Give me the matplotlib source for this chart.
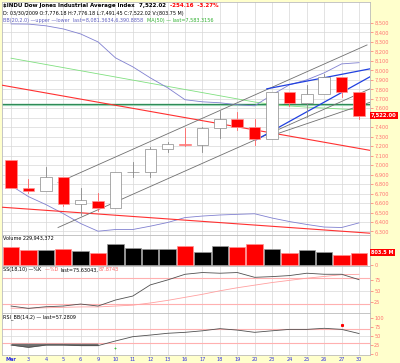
import numpy as np
import matplotlib.pyplot as plt
from matplotlib.transforms import blended_transform_factory

# ---- data ----
day_labels = ["Mar", "3", "4", "5", "6", "9", "10", "11", "12", "13", "16",
              "17", "18", "19", "20", "23", "24", "25", "26", "27", "30"]
opens = [7056, 6764, 6726, 6874, 6595, 6626, 6547, 6924, 6930, 7170, 7224,
         7217, 7396, 7487, 7401, 7278, 7776, 7660, 7750, 7925, 7776]
highs = [7059, 6855, 6979, 6874, 6755, 6710, 6926, 7036, 7192, 7239, 7395,
         7399, 7575, 7564, 7492, 7776, 7776, 7845, 7964, 7925, 7776]
lows = [6755, 6706, 6726, 6573, 6470, 6517, 6547, 6874, 6880, 7136, 7202,
        7139, 7290, 7372, 7217, 7278, 7624, 7503, 7750, 7716, 7491]
closes = [6763, 6726, 6876, 6594, 6627, 6547, 6926, 6930, 7170, 7224, 7217,
          7396, 7487, 7401, 7278, 7776, 7660, 7750, 7925, 7776, 7522]
prev_close = 7063

bb_upper = [8490, 8488, 8470, 8437, 8384, 8300, 8132, 8037, 7921, 7816, 7690,
            7668, 7658, 7637, 7626, 7742, 7847, 7900, 7974, 8068, 8081]
bb_lower = [6784, 6668, 6584, 6489, 6384, 6303, 6321, 6321, 6356, 6395, 6447,
            6463, 6474, 6481, 6487, 6442, 6405, 6374, 6347, 6342, 6391]
ma50 = [8128, 8095, 8062, 8029, 7996, 7963, 7930, 7897, 7864, 7831, 7798,
        7765, 7732, 7699, 7666, 7640, 7625, 7612, 7602, 7592, 7583]

volume_m = [1180, 958, 958, 1072, 891, 777, 1360, 1112, 1025, 1025, 1246,
            844, 1246, 1180, 1407, 1072, 804, 958, 844, 690, 804]

stoch_k = [15, 9.6, 13.4, 15, 19.6, 15, 28.8, 38, 63.5, 75, 88,
           92, 90.4, 92, 81, 82.6, 85, 90.4, 88, 88, 75.6]
stoch_d = [10, 10, 11, 12, 13, 13, 15, 17, 22, 28, 35,
           42, 50, 57, 63, 69, 74, 79, 83, 87, 87.9]
rsi = [25, 18.6, 25, 25, 23.4, 23.4, 36.4, 48.5, 53, 58, 60.7,
       65, 71, 67, 60.7, 65, 69, 69, 72, 69, 57.3]

# user-drawn trend lines: (day0, value0, day1, value1)
red_upper = (-0.63, 7847, 20.63, 7156)
red_lower = (-0.52, 6556, 20.63, 6282)
channel_top = (2.7, 6816, 20.46, 8268)
channel_bottom = (2.7, 6342, 20.63, 7805)
inner_line = (15.0, 7313, 20.63, 7663)
wedge_top = (14.7, 7805, 20.63, 8016)
wedge_bottom = (14.1, 7268, 20.63, 7932)
level_line = 7640

price_ticks = list(range(6300, 8600, 100))

bg = "#FFFFCC"
axis_red = "#FF7070"
grid_c = "#D8D8D8"

fig = plt.figure(figsize=(4, 3.63), dpi=100)
fig.patch.set_facecolor(bg)


def box(x0, y0, x1, y1):
    return [x0 / 400, 1 - y1 / 363, (x1 - x0) / 400, (y1 - y0) / 363]


def chain(a, parts, x, y, size, weight="normal"):
    # write several coloured pieces one after another on a single line
    t = a.text(x, y, parts[0][0], transform=a.transAxes, fontsize=size,
               color=parts[0][1], va="top", ha="left", fontweight=weight,
               zorder=8)
    for txt, col in parts[1:]:
        t = a.annotate(txt, xycoords=t, xy=(1, 0), va="bottom", ha="left",
                       fontsize=size, color=col, fontweight=weight, zorder=8)
    return t


ax = fig.add_axes(box(2, 2, 370, 235))
axv = fig.add_axes(box(2, 235, 370, 266), sharex=ax)
axs = fig.add_axes(box(2, 266, 370, 313), sharex=ax)
axr = fig.add_axes(box(2, 313, 370, 355), sharex=ax)

days = np.arange(len(closes))
for a in (ax, axv, axs, axr):
    a.set_facecolor("white")
    a.yaxis.tick_right()
    a.tick_params(axis="y", length=2, width=0.5, colors=axis_red,
                  labelsize=3.6, pad=1)
    a.tick_params(axis="x", length=0, labelbottom=False)
    for s in a.spines.values():
        s.set_color("#BBBBBB")
        s.set_linewidth(0.6)
    for d in days:
        a.axvline(d, color=grid_c, lw=0.5, zorder=0)
ax.set_xlim(-0.52, 20.63)

# ---- price panel ----
ax.set_ylim(6263, 8721)
for p in price_ticks:
    ax.axhline(p, color=grid_c, lw=0.5, zorder=0)
ax.set_yticks([p for p in price_ticks if p != 7500])
ax.set_yticklabels([f"{p:,}" for p in price_ticks if p != 7500])

ax.axhline(level_line - 10, color="#A8DCC0", lw=1.6, zorder=1)
ax.axhline(level_line, color="#2E8B57", lw=0.9, zorder=1)
ax.plot(days, ma50, color="#80E080", lw=0.6, zorder=2)
ax.plot(days, bb_upper, color="#8080D0", lw=0.6, zorder=2)
ax.plot(days, bb_lower, color="#8080D0", lw=0.6, zorder=2)

for seg, col, lw in [(red_upper, "#FF3030", 0.8), (red_lower, "#FF3030", 0.8),
                     (channel_top, "#707070", 0.6),
                     (channel_bottom, "#707070", 0.6),
                     (inner_line, "#707070", 0.6),
                     (wedge_top, "#2040E0", 0.9),
                     (wedge_bottom, "#2040E0", 0.9)]:
    ax.plot([seg[0], seg[2]], [seg[1], seg[3]], color=col, lw=lw, zorder=3)

last = prev_close
for d in days:
    o, h, l, c = opens[d], highs[d], lows[d], closes[d]
    down_day = c < last
    col = "#FF0000" if down_day else "#555555"
    filled = c < o
    lo_b, hi_b = min(o, c), max(o, c)
    wick = "#FF6060" if down_day else "#888888"
    ax.plot([d, d], [l, lo_b], color=wick, lw=0.6, zorder=4)
    ax.plot([d, d], [hi_b, h], color=wick, lw=0.6, zorder=4)
    ax.bar(d, max(hi_b - lo_b, 6), bottom=lo_b, width=0.66,
           color=col if filled else "white",
           edgecolor="#FF9090" if filled else "#888888",
           linewidth=0.5, zorder=5)
    last = c

tr = blended_transform_factory(ax.transAxes, ax.transData)
ax.text(1.003, closes[-1], f"{closes[-1]:,.2f}", transform=tr, fontsize=3.8,
        color="white", fontweight="bold", va="center", ha="left",
        bbox=dict(boxstyle="square,pad=0.25", fc="#FF0000", ec="none"),
        clip_on=False)

chain(ax, [("$INDU Dow Jones Industrial Average Index  ", "black"),
           ("7,522.02  ", "black"), ("-254.16  -3.27%", "#FF0000")],
      0.004, 0.995, 4.0, "bold")
chain(ax, [("D: 03/30/2009 O:7,776.18 H:7,776.18 L:7,491.45 "
            "C:7,522.02 V:(803.75 M)", "black")], 0.004, 0.962, 3.5)
chain(ax, [("BB(20,2.0) \u2014upper \u2014lower  last=8,081.3634,6,390.8858  ",
            "#6060C0"), ("MA(50) \u2014 last=7,583.3156", "#30B030")],
      0.004, 0.932, 3.5)

# ---- volume panel ----
vol_cols = []
last = prev_close
for c in closes:
    vol_cols.append("#FF0000" if c < last else "#000000")
    last = c
axv.bar(days, volume_m, width=0.94, color=vol_cols,
        edgecolor=["#FF9090" if c == "#FF0000" else "#999999" for c in vol_cols],
        linewidth=0.5, zorder=3)
axv.set_ylim(-60, 1963)
axv.set_yticks([0])
axv.set_yticklabels(["0"])
axv.text(1.003, volume_m[-1], "803.5 M", transform=blended_transform_factory(
    axv.transAxes, axv.transData), fontsize=3.6, color="white",
    fontweight="bold", va="center", ha="left",
    bbox=dict(boxstyle="square,pad=0.2", fc="#FF0000", ec="none"),
    clip_on=False)
chain(axv, [("Volume 229,943,372", "black")], 0.004, 0.97, 3.5)

# ---- slow stochastic panel ----
axs.set_ylim(-1, 107)
axs.axhline(50, color=grid_c, lw=0.5, zorder=0)
for lv in (80, 20):
    axs.axhline(lv, color="#FFB0B0", lw=0.8, zorder=1)
axs.plot(days, stoch_d, color="#FFA0A0", lw=0.6, zorder=2)
axs.plot(days, stoch_k, color="#505050", lw=0.6, zorder=3)
axs.set_yticks([25, 50, 75])
chain(axs, [("SS(18,10) \u2014%K  ", "black"), ("\u2014%D  ", "#FF6060"),
            ("last=75.63043,", "black"), ("87.8743", "#FF6060")],
      0.004, 0.97, 3.5)

# ---- RSI panel ----
axr.set_ylim(-3, 115)
axr.axhline(50, color=grid_c, lw=0.5, zorder=0)
for lv in (70, 30):
    axr.axhline(lv, color="#FFB0B0", lw=0.8, zorder=1)
rsi_arr = np.array(rsi)
axr.fill_between(days, rsi_arr, 30, where=rsi_arr < 30, color="#707070",
                 lw=0, zorder=2)
axr.plot(days, rsi, color="#505050", lw=0.6, zorder=3)
axr.plot([19], [82], marker="s", ms=1.2, color="#FF0000", zorder=4)
axr.plot([6], [17], marker="+", ms=2, mew=0.6, color="#40C040", zorder=4)
axr.set_yticks([0, 25, 50, 75, 100])
chain(axr, [("RSI_BB(14,2) \u2014 last=57.2809", "black")], 0.004, 0.97, 3.5)

axr.set_xticks(days)
axr.set_xticklabels(day_labels)
axr.tick_params(axis="x", labelbottom=True, labelsize=3.6, colors="#3030E0",
                pad=1.5)
axr.get_xticklabels()[0].set_fontweight("bold")

fig.savefig("out.png", dpi=100, facecolor=bg)
